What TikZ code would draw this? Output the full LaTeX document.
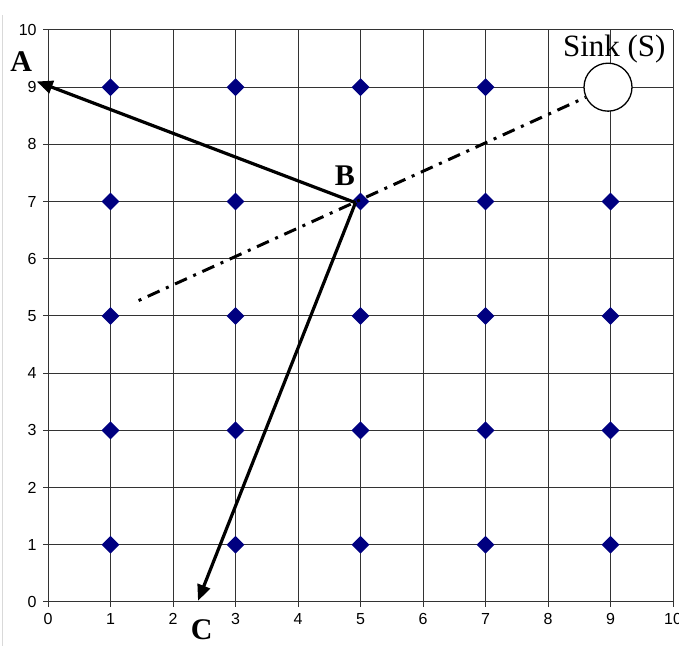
\documentclass[tikz,border=0pt]{standalone}
\usepackage{fontspec}
\setmainfont{Liberation Serif}
\newfontfamily\axisfont{Liberation Sans}
\usetikzlibrary{arrows.meta, shapes.geometric}
\definecolor{marknavy}{RGB}{0,0,128}
\tikzset{
  gridline/.style={line width=1pt, black!80},
  tickno/.style={font=\axisfont\fontsize{16}{16}\selectfont, inner sep=0pt},
  sensor/.style={diamond, fill=marknavy, minimum size=18pt, inner sep=0pt},
  hop/.style={line width=3.2pt, -{Triangle[length=16pt,width=13pt]}},
  ray/.style={line width=3pt, dash pattern=on 3pt off 7pt on 13pt off 7pt},
  bigletter/.style={font=\fontsize{30}{30}\selectfont\bfseries, inner sep=0pt},
}
\begin{document}
\begin{tikzpicture}[x=62.5pt, y=57.2pt]
  \useasboundingbox (-0.768,-0.769) rectangle (10.096,10.524);
  % Page edge
  \draw[black!15, line width=1pt] (-0.72,-0.769) -- (-0.72,10.26);

  % Grid and axes
  \foreach \i in {0,...,10} {
    \draw[gridline] (\i,0) -- (\i,10);
    \draw[gridline] (0,\i) -- (10,\i);
    \draw[gridline] (\i,0) -- (\i,-0.09);
    \draw[gridline] (0,\i) -- (-0.08,\i);
    \node[tickno, anchor=east] at (-0.18,\i) {\i};
    \node[tickno, anchor=north] at (\i,-0.2) {\i};
  }

  % Sensor nodes
  \foreach \x in {1,3,5,7,9} {
    \foreach \y in {1,3,5,7,9} {
      \ifnum\x\y=99 \else
        \node[sensor] (s\x\y) at (\x,\y) {};
      \fi
    }
  }

  % Sink
  \node[circle, draw, line width=1.3pt, fill=white, minimum size=48pt, inner sep=0pt] (sink) at (8.96,9) {};
  \node[font=\fontsize{31}{31}\selectfont] (sinklab) at (9.06,9.67) {Sink (S)};

  % Labels
  \node[bigletter] (labA) at (-0.43,9.44) {A};
  \node[bigletter] (labB) at (4.75,7.45) {B};
  \node[bigletter] (labC) at (2.46,-0.49) {C};

  % Routes
  \coordinate (vB) at (4.92,6.98);
  \coordinate (tipA) at (-0.18,9.1);
  \coordinate (tipC) at (2.40,0.02);
  \coordinate (rayStart) at (1.45,5.27);
  \draw[ray] (rayStart) -- (sink);
  \draw[hop] (vB) -- (tipA);
  \draw[hop] (vB) -- (tipC);
\end{tikzpicture}
\end{document}
